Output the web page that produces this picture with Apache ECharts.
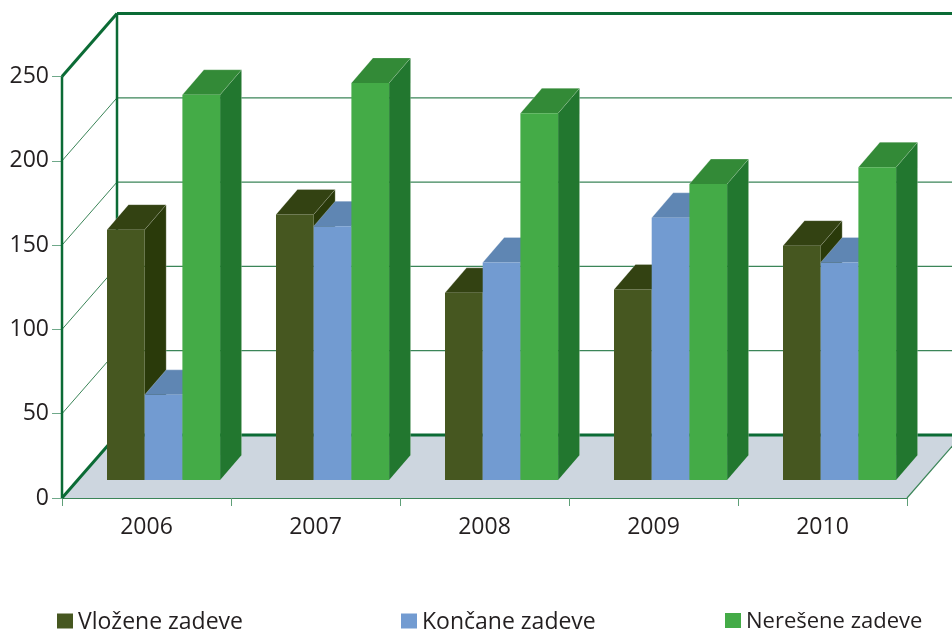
<!DOCTYPE html>
<html>
<head>
<meta charset="utf-8">
<style>
  html, body { margin: 0; padding: 0; background: #fff; }
  #chart { width: 952px; height: 632px; }
</style>
<script src="https://cdn.jsdelivr.net/npm/echarts@6/dist/echarts.min.js"></script>
</head>
<body>
<div id="chart"></div>
<script>
var years = ['2006', '2007', '2008', '2009', '2010'];
var yTicks = [0, 50, 100, 150, 200, 250];
var vlozene = [148.5, 157.5, 111, 113, 139];
var koncane = [50.5, 150.5, 129, 155.5, 129];
var neresene = [228.5, 235.5, 217.5, 175.5, 185.5];

var FONT = '"Open Sans", "Noto Sans", sans-serif';
var TEXT = '#231f20';
var LINE = '#0b6b35';
var THIN = '#3b8558';
var EDGE = 'rgba(255,255,255,0.3)';

// skew of the box and of the bars (pixels)
var WALL = [55, -63];
var BAR_DEPTH = [21.5, -25];
var BAR_SHIFT = [-39.5, -18];
var BAR_W = 37.7;

function frameItem(params, api) {
    var v = api.value(0);
    var half = api.size([1, 0])[0] / 2;
    var c = api.coord([0, v]);
    var x0 = c[0] - half;
    var x1 = c[0] + half * 2 * years.length - half;
    var y = c[1];
    var kids = [];
    function seg(a, b, c2, d, w, col) {
        kids.push({
            type: 'line',
            shape: { x1: a, y1: b, x2: c2, y2: d },
            style: { stroke: col, lineWidth: w }
        });
    }
    if (v === 0) {
        kids.push({
            type: 'polygon',
            shape: { points: [[x0, y], [x1, y], [x1 + WALL[0], y + WALL[1]], [x0 + WALL[0], y + WALL[1]]] },
            style: { fill: '#cdd6df' }
        });
        seg(x1, y, x1 + WALL[0], y + WALL[1], 1.2, THIN);
        seg(x0 + WALL[0], y + WALL[1], x1 + WALL[0], y + WALL[1], 3, LINE);
        seg(x0, y, x0 + WALL[0], y + WALL[1], 3, LINE);
    } else if (v === 250) {
        var yb = api.coord([0, 0])[1];
        seg(x0, y, x0, yb, 2.5, LINE);
        seg(x0 + WALL[0], y + WALL[1], x0 + WALL[0], yb + WALL[1], 2.5, LINE);
        seg(x0 + WALL[0], y + WALL[1], x1 + WALL[0], y + WALL[1], 3, LINE);
        seg(x0, y, x0 + WALL[0], y + WALL[1], 3, LINE);
    } else {
        seg(x0, y, x0 + WALL[0], y + WALL[1], 1, THIN);
        seg(x0 + WALL[0], y + WALL[1], x1 + WALL[0], y + WALL[1], 1.2, THIN);
    }
    return { type: 'group', children: kids };
}

function barItem(slot, front, top, side) {
    return function (params, api) {
        var p = api.coord([api.value(0), api.value(1)]);
        var base = api.coord([api.value(0), 0]);
        var l = p[0] + BAR_SHIFT[0] + slot * BAR_W;
        var r = l + BAR_W;
        var t = p[1] + BAR_SHIFT[1];
        var b = base[1] + BAR_SHIFT[1];
        var dx = BAR_DEPTH[0], dy = BAR_DEPTH[1];
        return {
            type: 'group',
            children: [
                { type: 'polygon', shape: { points: [[r, t], [r + dx, t + dy], [r + dx, b + dy], [r, b]] }, style: { fill: side } },
                { type: 'polygon', shape: { points: [[l, t], [r, t], [r + dx, t + dy], [l + dx, t + dy]] }, style: { fill: top } },
                { type: 'polyline', shape: { points: [[l, t], [l + dx, t + dy], [r + dx, t + dy], [r + dx, b + dy]] }, style: { stroke: EDGE, lineWidth: 0.8, fill: null } },
                { type: 'line', shape: { x1: r, y1: t, x2: r + dx, y2: t + dy }, style: { stroke: EDGE, lineWidth: 0.6 } },
                { type: 'rect', shape: { x: l, y: t, width: BAR_W, height: b - t }, style: { fill: front } }
            ]
        };
    };
}

function barSeries(name, values, slot, front, top, side) {
    return {
        name: name,
        type: 'custom',
        coordinateSystem: 'cartesian2d',
        clip: false,
        z: 3,
        itemStyle: { color: front },
        encode: { x: 0, y: 1 },
        data: values.map(function (v, i) { return [i, v]; }),
        renderItem: barItem(slot, front, top, side)
    };
}

function legendAt(name, left, size) {
    return {
        data: [name],
        left: left,
        top: 611,
        // square sits a little above the middle of the text
        icon: 'path://M0 0H16V15H0Z M0 18L0 18',
        itemWidth: 16,
        itemHeight: 18,
        selectedMode: false,
        padding: 0,
        textStyle: { fontFamily: FONT, fontSize: size, color: TEXT }
    };
}

var chart = echarts.init(document.getElementById('chart'), null, { renderer: 'canvas' });
chart.setOption({
    animation: false,
    backgroundColor: '#fff',
    grid: { left: 62, right: 45, top: 76.5, height: 421.5 },
    legend: [
        legendAt('Vložene zadeve', 57, 23),
        legendAt('Končane zadeve', 401, 23),
        legendAt('Nerešene zadeve', 725, 22)
    ],
    xAxis: {
        type: 'category',
        data: years,
        axisLine: { show: true, lineStyle: { color: THIN, width: 1.2 } },
        axisTick: { show: true, length: 8, lineStyle: { color: '#5f9f78', width: 1 } },
        axisLabel: { margin: 18, fontFamily: FONT, fontSize: 23, color: TEXT },
        splitLine: { show: false }
    },
    yAxis: {
        type: 'value',
        min: 0,
        max: 250,
        interval: 50,
        axisLine: { show: false },
        axisTick: { show: true, length: 10, lineStyle: { color: '#6fa98a', width: 1 } },
        axisLabel: { margin: 13, fontFamily: FONT, fontSize: 23, color: TEXT, padding: [2, 0, 0, 0] },
        splitLine: { show: false }
    },
    series: [
        {
            type: 'custom',
            coordinateSystem: 'cartesian2d',
            clip: false,
            silent: true,
            z: 1,
            encode: { y: 0 },
            data: yTicks.map(function (v) { return [v]; }),
            renderItem: frameItem
        },
        barSeries('Vložene zadeve', vlozene, 0, '#465720', '#334212', '#2a3a0a'),
        barSeries('Končane zadeve', koncane, 1, '#729bd1', '#5f86b3', '#54759f'),
        barSeries('Nerešene zadeve', neresene, 2, '#44ab47', '#338a37', '#22772f')
    ]
});
</script>
</body>
</html>
